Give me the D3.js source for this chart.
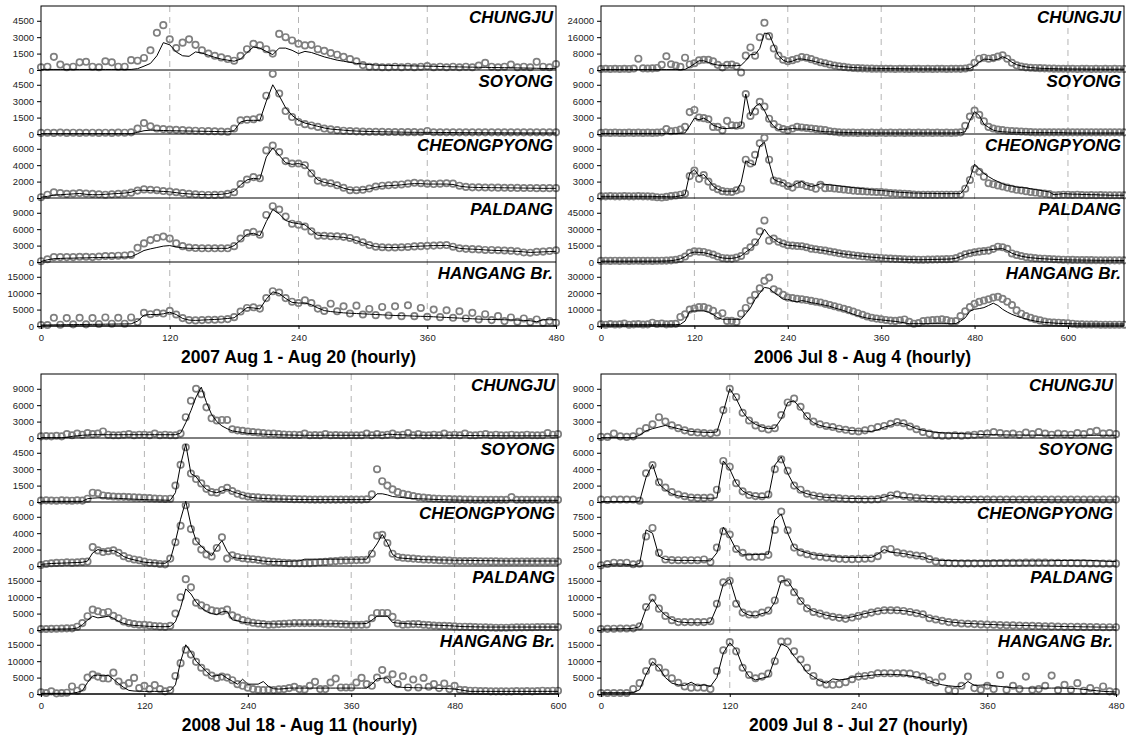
<!DOCTYPE html>
<html>
<head>
<meta charset="utf-8">
<script src="https://cdn.jsdelivr.net/npm/d3@7"></script>
<style>
  body { margin: 0; background: #fff; }
  text { font-family: "Liberation Sans", Arial, sans-serif; }
</style>
</head>
<body>
<svg id="chart" width="1126" height="740"></svg>
<script>
// station names, top to bottom in every panel
var stations = ["CHUNGJU", "SOYONG", "CHEONGPYONG", "PALDANG", "HANGANG Br."];

// ---------- 2007 Aug 1 - Aug 20 (values every 6 hours) ----------
var obs07Chungju = [250,300,1200,500,250,300,700,750,300,250, 800,700,300,300,900,850,1100,1800,3400,4100, 2800,2000,2500,2800,2300,1800,1500,1300,1150,1000, 850,1300,1900,2400,2250,1900,1500,3300,3000,2700, 2400,2250,2300,1900,1750,1550,1400,1200,1000,800, 450,300,300,250,250,300,250,300,250,300, 350,250,300,250,300,250,300,250,400,650, 300,250,300,500,250,300,250,750,300,250, 550];
var sim07Chungju = [50,50,50,50,50,50,50,50,50,50, 50,50,50,50,50,120,350,600,1300,2500, 2300,1650,1300,1250,1650,1550,1350,1150,1000,900, 800,1000,1600,2100,2000,1700,1400,2000,2000,1800, 1500,1700,1600,1400,1200,1050,900,800,700,600, 550,500,450,430,420,400,390,380,370,360, 350,340,320,300,290,280,270,260,250,240, 230,220,210,200,190,180,170,160,140,130, 120];
var obs07Soyong = [100,120,100,130,100,120,100,110,120,100, 120,100,130,120,150,500,1000,700,500,450, 400,380,350,320,300,280,260,250,230,200, 500,1250,1300,1350,1500,3500,5500,3700,2100,1550, 1100,900,780,650,500,420,350,300,270,240, 220,200,200,190,180,180,170,170,170,160, 280,160,160,150,150,150,150,150,150,150, 150,150,150,150,150,150,150,150,150,150, 150];
var sim07Soyong = [30,30,30,30,30,30,30,30,30,30, 30,30,30,30,30,150,300,350,340,320, 300,290,280,270,260,250,240,230,210,200, 300,1100,1250,1250,1250,3000,4500,3500,2400,1700, 1250,1000,850,700,550,450,400,350,300,270, 250,230,210,200,190,180,170,160,155,150, 150,145,140,135,130,125,120,120,115,115, 110,110,110,105,105,100,100,100,100,100, 100];
var obs07Cheong = [100,400,700,600,500,550,600,550,500,450, 400,450,500,550,650,900,1050,1000,950,850, 780,700,600,500,450,400,370,380,400,500, 700,1700,2250,2550,2400,5800,6400,5600,4500,4200, 4200,4000,3000,2100,1900,1800,1550,1250,950,950, 1000,1150,1400,1500,1550,1600,1650,1750,1850,1800, 1750,1700,1750,1800,1750,1500,1350,1300,1300,1280, 1270,1260,1250,1240,1230,1220,1210,1200,1200,1200, 1200];
var sim07Cheong = [100,200,350,400,450,500,550,450,400,400, 450,500,550,600,700,950,950,900,850,800, 750,650,550,500,450,420,400,420,450,550, 800,1600,2200,2400,2300,5000,6100,5200,4300,4100, 4200,4000,3100,2200,1900,1750,1500,1200,1000,950, 1000,1100,1300,1450,1500,1550,1600,1700,1750,1750, 1700,1700,1700,1700,1650,1450,1350,1300,1280,1270, 1260,1250,1240,1230,1220,1210,1200,1190,1180,1180, 1180];
var obs07Paldang = [150,500,900,900,900,900,950,950,900,1000, 1100,1100,1150,1200,1300,2600,3400,4000,4400,4650, 4300,3400,2900,2650,2550,2500,2500,2500,2500,2500, 2900,4300,5300,5500,5000,8600,10200,9600,8300,7000, 6800,6500,5600,4800,4800,4700,4700,4600,4400,4000, 3600,3100,2800,2700,2650,2650,2700,2750,2850,2900, 2950,3000,3050,3100,2800,2500,2400,2350,2300,2200, 2200,2150,2100,2050,1950,1750,1700,1850,1900,2000, 2150];
var sim07Paldang = [100,400,600,650,700,700,750,750,800,800, 850,850,900,900,950,1500,2100,2400,2650,2900, 3000,2750,2600,2500,2500,2500,2500,2500,2500,2500, 3000,4000,5050,5250,4800,7400,9600,8800,7600,7200, 7000,6800,5800,4900,4800,4700,4600,4500,4300,3900, 3500,3100,2800,2700,2650,2650,2700,2750,2850,2900, 2950,3000,3000,3050,2800,2500,2400,2350,2300,2200, 2150,2100,2050,2000,1950,1850,1750,1800,1850,1900, 1950];
var obs07Hangang = [300,300,2500,400,2400,500,2500,500,2400,600, 2600,700,2500,700,2600,1200,4000,3600,4000,3800, 4600,3500,2400,1800,1700,1800,1900,1900,2000,2100, 2700,4400,5500,5700,5300,8500,10600,10200,8500,7400, 7000,7800,7000,5300,4600,6800,4500,6000,3800,6200, 3500,5200,3300,5800,3200,6000,3000,6300,3000,5500, 2800,5000,2700,4800,2500,4500,2300,4000,2000,3600, 1800,3000,1500,2600,1300,2300,1200,2000,1000,1500, 1000];
var sim07Hangang = [300,320,350,380,400,420,450,480,500,520, 550,580,600,620,650,1500,3300,3500,3500,3700, 4200,3500,2300,1800,1700,1800,1900,2000,2100,2300, 2500,4000,5600,5500,5200,8200,10400,9900,8400,7200, 7000,7000,6500,5500,4700,4400,4200,4000,3900,3800, 3700,3600,3500,3400,3300,3200,3150,3100,3000,2950, 2900,2800,2700,2600,2500,2400,2300,2200,2100,2050, 2000,1950,1900,1850,1800,1700,1600,1300,1900,1900, 1900];
var ticks07 = [[1500, 3000, 4500], [1500, 3000, 4500], [2000, 4000, 6000], [3000, 6000, 9000], [5000, 10000, 15000]];

// ---------- 2006 Jul 8 - Aug 4 ----------
var obs06Chungju = [500,600,500,600,500,600,500,700,5500,800, 700,800,1000,2500,6700,2800,2200,1500,6000,2700, 3300,4700,5000,5000,4200,2500,1300,2500,2600,1800, -1200,7000,11000,7000,16000,23000,16500,10500,7000,5000, 4300,4800,5500,6300,6000,5300,4500,3800,3300,2700, 2200,1800,1500,1200,1000,900,800,700,650,600, 600,550,600,500,600,550,500,600,550,500, 600,500,550,600,500,550,600,550,700,1200, 3500,5500,6000,5500,5800,6500,7200,5500,3500,2300, 1700,1300,1100,1000,900,800,700,650,600,600, 550,600,500,550,600,500,550,500,600,500, 550,500,500];
var sim06Chungju = [200,200,200,200,200,200,200,200,200,200, 200,200,200,200,200,200,200,200,300,1500, 3000,4500,4500,3700,2900,2400,2200,2100,2100,2100, 2300,4500,7500,7500,10500,18000,17500,12200,7000,4800, 3800,4300,5300,5400,5000,4600,4000,3400,2900,2500, 2100,1800,1600,1400,1200,1100,1000,900,850,800, 750,700,700,650,650,600,600,600,550,550, 550,550,500,500,500,500,500,500,600,700, 2000,3800,5300,5200,4800,5300,6500,5500,3800,2600, 2000,1500,1200,1000,850,750,700,650,600,550, 550,500,500,500,450,450,450,450,400,400, 400,400,400];
var obs06Soyong = [200,250,200,250,200,200,250,200,250,200, 250,200,250,300,900,500,600,800,1300,4000, 4400,3000,2900,2700,1300,1300,700,2400,1600,1500, 1600,7300,3300,4100,5900,5000,2800,1800,1200,900, 700,1000,1300,1200,1100,1000,900,800,700,500, 400,300,250,250,250,200,250,200,250,200, 250,200,250,200,250,200,250,200,250,200, 250,200,250,200,250,200,250,300,1500,3200, 4300,3500,2300,1300,1000,800,700,600,550,500, 450,400,350,300,300,300,300,300,300,300, 300,300,300,300,300,300,300,300,300,300, 300,300,300];
var sim06Soyong = [100,100,100,100,100,100,100,100,100,100, 100,100,100,100,100,100,100,100,200,1500, 2900,2600,2900,2400,1600,1300,1000,1000,1100,1100, 1500,7300,3300,5000,5600,4300,2500,1400,800,850, 900,1000,950,900,900,800,600,500,400,400, 350,300,300,250,250,250,200,200,200,200, 200,200,200,200,200,200,200,200,200,200, 200,200,200,200,200,200,200,250,400,2500, 4100,3400,1800,1200,700,500,400,350,300,300, 250,250,250,250,250,250,250,250,250,250, 200,200,200,200,200,200,200,200,200,200, 200,200,200];
var obs06Cheong = [300,300,350,300,300,350,300,300,350,300, 300,250,150,100,200,350,450,600,800,4000, 5000,3500,4200,3000,2000,1600,1250,1150,1100,1400, 1700,7000,6300,7900,10000,11000,7000,3200,3000,2700, 2200,1900,2500,2500,2200,2000,1700,2400,1800,1850, 1750,1650,1550,1450,1350,1300,1250,1200,1150,1100, 1100,1000,900,850,800,750,700,650,600,600, 600,600,600,600,600,600,600,650,1700,3300, 5300,4800,3900,2700,2500,2300,2100,1900,1700,1500, 1400,1250,1100,1000,900,800,700,500,550,600, 600,550,600,550,500,550,500,550,500,500, 500,500,500];
var sim06Cheong = [300,300,300,300,300,300,300,300,300,300, 300,300,250,250,250,200,250,400,600,4500, 5200,4000,4300,3300,2200,1600,1250,1250,1250,1250, 2800,6800,6300,6000,9500,10200,6500,3400,3000,2800, 2000,2200,2700,3000,2400,2100,2300,2600,2500,2400, 2300,2200,2100,2000,1900,1800,1700,1600,1500,1400, 1350,1300,1200,1100,1050,1000,950,900,900,850, 850,850,800,800,800,800,800,800,1800,3600, 6200,5300,4500,3900,3400,3000,2600,2300,2200,2000, 1900,1850,1700,1550,1400,1250,1100,600,700,800, 750,700,700,650,650,600,600,550,550,500, 500,500,500];
var obs06Paldang = [1000,1100,1000,1200,1000,1100,1000,1100,1200,1000, 1100,1000,1100,1200,1300,1500,2000,3000,5000,8300, 9800,9500,9200,8000,6700,5000,3700,3300,3100,4000, 5500,10000,13500,18000,28000,38000,19500,21400,18500,16800, 15300,15000,14600,14400,13500,12200,11600,11000,10400,9600, 8800,8000,7300,6700,6200,5700,5200,4800,4400,4000, 3700,3400,3100,2900,2700,2500,2300,2200,2100,2100, 2200,2300,2400,2500,2600,2800,3500,5200,7000,8000, 8900,9500,10000,10400,12000,14000,13500,12000,7800,6500, 5500,4500,4000,3500,3200,3000,2700,2500,2300,2100, 2000,1900,1800,1800,1700,1700,1600,1600,1500,1500, 1500,1500,1500];
var sim06Paldang = [800,800,800,800,800,800,800,800,800,800, 800,800,800,900,1000,1200,1800,2800,4800,8000, 9000,8800,8500,7500,6300,4800,3700,3300,3300,4000, 5500,9000,12000,16000,22000,30000,24000,21000,18000,16500, 15300,15000,14600,14000,13200,12200,11600,11000,10300,9500, 8700,8000,7300,6700,6200,5700,5200,4800,4400,4000, 3700,3400,3100,2900,2700,2500,2300,2200,2100,2100, 2200,2300,2400,2500,2600,2800,3400,5000,6800,8000, 9000,10000,10800,11000,11500,12000,12200,10500,8000,6500, 5300,4500,3900,3500,3100,2900,2600,2400,2200,2000, 1900,1800,1800,1700,1700,1600,1600,1500,1500,1500, 1400,1400,1400];
var obs06Hangang = [1000,800,1200,900,1000,1500,800,1000,1200,900, 1000,2000,1200,1500,1000,1200,1300,5500,7100,10000, 10600,11500,11500,10600,9200,6100,7800,3100,3100,2500, 7500,11000,15500,19000,23000,27500,29500,22400,21000,19000, 17300,17000,16600,16200,15800,15300,14800,14300,13500,12800, 12000,11300,10500,9700,8800,7800,6800,5800,5000,4500, 4100,3700,3300,3100,3500,4000,2500,1400,1800,3000, 3300,3600,3800,4100,3600,2800,3000,6100,9000,11500, 13500,14700,15500,16300,17300,17800,16500,14800,12800,9500, 7500,6100,5000,4100,3400,2700,2300,2100,2000,1800, 1700,1400,1000,1000,900,900,900,800,800,800, 800,800,800];
var sim06Hangang = [800,800,800,800,800,800,800,800,800,800, 800,800,800,800,800,800,800,1000,3000,9000, 9200,9200,9200,8400,7000,5100,4100,4100,4100,4100, 4100,7500,11000,16300,20000,23500,23000,20500,18500,16300, 16300,15300,14700,15500,15000,14200,13800,13200,12600,12000, 11000,10200,9400,8300,7200,6300,5500,4800,4300,4000, 3700,3400,3100,2800,2400,1900,1400,1400,1400,1400, 1400,1400,1400,1400,1400,1400,1500,3000,5000,9000, 10200,10600,11200,12500,13900,12500,10200,8500,7100,6000, 5100,4300,3600,3000,2500,2200,2000,1800,1600,1500, 1400,1300,1300,1200,1200,1200,1200,1200,1200,1200, 1200,1200,1200];
var ticks06 = [[8000, 16000, 24000], [3000, 6000, 9000], [3000, 6000, 9000], [15000, 30000, 45000], [10000, 20000, 30000]];

// ---------- 2008 Jul 18 - Aug 11 ----------
var obs08Chungju = [300,350,300,400,300,700,500,800,600,900, 700,800,1200,600,500,500,600,700,500,600, 600,500,800,500,600,500,500,800,3800,6800, 9000,8000,5600,3600,3200,3300,3300,1600,1400,1300, 1200,1100,1000,900,800,800,700,650,600,600, 550,800,500,550,500,700,500,550,500,500, 500,500,500,800,500,700,500,600,800,500, 600,900,500,700,500,500,600,500,800,500, 600,500,800,500,500,600,700,500,600,500, 500,600,500,500,600,500,500,500,900,600, 700];
var sim08Chungju = [60,60,60,60,60,100,300,400,500,550, 600,600,600,600,600,600,600,600,600,600, 600,600,600,600,600,600,600,900,2800,5000, 7500,9300,6500,4300,3000,2200,1700,1300,1150,1000, 850,800,750,700,650,600,580,560,540,520, 500,500,500,500,500,500,500,500,500,500, 500,500,500,500,500,500,500,700,650,600, 580,550,520,500,500,500,500,500,500,500, 500,480,460,450,450,440,430,420,420,410, 400,400,400,400,400,400,400,400,400,400, 400];
var obs08Soyong = [130,150,130,120,150,130,120,150,130,300, 850,800,600,550,500,480,470,450,420,400, 380,350,320,300,280,300,1500,3400,5000,2600, 2100,1700,1200,900,850,1100,1300,1000,750,600, 500,450,420,380,350,330,320,300,280,260, 250,240,230,220,220,220,220,220,220,220, 220,220,220,250,700,3000,1900,1500,1150,900, 750,650,550,450,400,350,320,300,280,260, 250,240,230,220,210,200,200,200,200,200, 200,450,200,200,200,200,200,200,200,200, 200];
var sim08Soyong = [60,60,60,60,60,60,60,60,60,300, 350,380,380,370,350,330,300,280,260,240, 220,200,190,180,170,160,850,3400,5300,2600, 2300,1650,1150,950,850,1000,1170,950,800,650, 470,400,350,320,300,280,270,260,250,240, 230,225,220,220,220,220,220,220,220,220, 220,220,220,220,250,750,750,650,500,450, 400,350,320,300,280,260,240,220,200,190, 180,170,160,160,150,150,150,150,150,150, 150,150,150,150,150,150,150,150,150,150, 150];
var obs08Cheong = [120,250,330,380,400,450,410,450,500,540, 2300,1900,1700,1800,1900,1600,1200,950,800,700, 550,400,330,250,200,900,2900,4900,7400,4500, 3000,2000,1400,1160,2200,3500,900,1300,1100,950, 870,830,750,650,560,500,450,400,350,330, 330,330,350,400,450,500,560,600,650,680, 700,720,740,760,1500,3700,3800,2800,1500,1100, 1000,950,900,850,800,780,750,700,680,650, 620,610,600,600,590,580,570,560,560,550, 550,550,550,550,550,550,550,550,550,550, 540];
var sim08Cheong = [200,250,300,330,350,370,400,420,450,600, 1600,2000,1850,1800,1900,1600,1150,900,750,600, 450,410,380,350,330,750,3000,5700,7900,5000, 3100,2400,1800,1240,2300,3100,1800,1080,950,900, 870,800,700,600,540,540,540,560,580,600, 620,830,830,830,830,830,830,830,830,830, 830,830,830,830,1800,2700,3850,2800,1400,1000, 950,900,850,800,780,760,750,740,730,720, 700,700,690,680,670,660,650,640,630,620, 610,610,610,610,610,610,610,610,610,610, 600];
var obs08Paldang = [300,300,350,400,450,500,500,1000,2100,4200, 6200,5700,5200,5500,4300,3600,2600,2100,1800,1600, 1600,1400,1200,1100,1000,1300,5000,10000,15500,13000, 8300,7500,6800,6000,5700,5700,6200,4500,3800,3000, 2600,2200,2000,1800,1600,1700,1800,1900,2000,2100, 2100,2100,2100,2100,2100,2000,2000,1900,1800,1700, 1600,1600,1600,1700,3600,5200,5200,5200,4000,2000, 1600,1700,1800,1800,1600,1500,1350,1300,1250,1200, 1100,1000,1000,950,900,850,800,750,700,700, 700,750,800,800,850,850,900,900,900,900, 900];
var sim08Paldang = [200,220,250,280,300,320,350,600,1600,3000, 4200,3700,3900,4200,3600,2600,2000,1600,1400,1300, 1200,1100,1050,1000,1000,1100,2500,6800,12500,11000, 8500,6800,5600,5000,4700,5500,5700,3100,2800,2400, 2200,2100,2000,1950,1900,1850,1800,1800,1800,1800, 1800,1800,1800,1800,1800,1850,1850,1900,1900,1900, 1900,1900,1900,2000,3000,4200,4200,4200,2300,2100, 2000,1900,1800,1700,1600,1550,1500,1450,1350,1300, 1200,1100,1000,1000,950,950,900,900,900,900, 900,900,900,900,900,900,900,900,900,900, 900];
var obs08Hangang = [500,300,800,200,300,400,2300,1000,2000,5000, 5900,5300,4800,4700,6500,3800,2500,3300,4900,1800, 2500,1500,2700,1500,800,1200,5500,9400,13500,12000, 9800,8000,6600,5600,4900,5300,5000,4200,3000,2500, 1900,1500,1300,1200,1300,1200,1400,1500,1800,2200, 1500,1400,2500,3700,1500,1500,3500,4700,2000,2000, 2000,3500,4900,3000,2500,5000,7300,4400,6000,3000, 5400,2000,4400,2000,4900,2200,3000,1800,3200,1500, 2500,1300,1200,1000,1000,900,900,800,800,800, 800,800,900,800,900,800,900,1000,900,1000, 1000];
var sim08Hangang = [200,200,200,200,200,200,200,500,1000,3500, 5500,5800,5500,5700,4500,3200,2000,1100,900,850, 800,800,800,800,800,1000,2800,9900,15000,12800, 10000,8400,6800,5400,5600,5900,4800,3900,3000,4500, 3000,3000,3000,3800,2300,1600,1500,1600,1800,1800, 1800,1800,1800,1800,1800,1800,1800,1800,1800,1800, 1800,1800,1800,1800,3000,4600,4800,4900,2800,2200, 2000,2000,1900,1900,1800,1800,1800,1700,1700,1600, 1500,1300,1000,800,800,800,800,800,800,800, 800,800,800,800,800,800,800,800,800,800, 800];
var ticks08 = [[3000, 6000, 9000], [1500, 3000, 4500], [2000, 4000, 6000], [5000, 10000, 15000], [5000, 10000, 15000]];

// ---------- 2009 Jul 8 - Jul 27 ----------
var obs09Chungju = [200,200,800,300,200,300,1200,1800,2500,3800, 3000,2300,1800,1400,1100,1000,900,800,1000,5100, 9000,7500,4600,3200,2300,1800,1550,1800,4200,6500, 7200,5700,4000,3000,2500,2200,2000,1700,1500,1300, 1200,1400,1700,2000,2200,2600,2900,2700,2100,1600, 1100,800,500,400,400,500,400,500,600,700, 800,1100,900,700,800,600,1000,700,1100,800, 600,800,700,600,900,700,1100,1300,800,900, 700];
var sim09Chungju = [60,60,60,60,60,60,500,1300,1700,2000, 2300,2000,1700,1400,1200,1100,1050,1000,1100,4800, 9000,7200,4800,3300,2500,2000,1700,1800,3500,6500, 6800,5400,3800,2800,2300,2000,1850,1600,1450,1350, 1300,1250,1200,1500,2000,2300,2800,2600,2200,1700, 1400,1200,1050,950,900,850,800,750,700,650, 600,600,580,560,550,540,530,520,510,500, 500,500,500,500,500,500,500,500,500,500, 500];
var obs09Soyong = [300,250,300,300,300,300,150,3500,4500,2400, 1750,1200,900,700,550,500,500,550,1500,5000, 4300,2300,1300,850,720,700,900,4000,5200,3800, 2000,1500,1000,800,650,550,500,450,400,350, 320,310,300,350,510,800,900,750,600,500, 450,400,350,330,320,310,300,300,300,300, 300,300,300,300,300,300,300,300,300,300, 300,300,300,300,300,300,300,300,300,300, 300];
var sim09Soyong = [50,50,50,50,50,50,100,3000,4600,2200, 1500,1000,750,650,550,500,480,450,500,5000, 4000,2300,1350,900,650,550,600,4500,5500,3500, 2000,1300,1000,800,650,560,520,480,450,430, 420,410,400,450,600,850,650,550,500,480, 450,420,380,350,330,320,300,300,300,300, 280,280,280,280,280,280,280,280,280,280, 260,260,260,260,260,250,250,250,250,250, 250];
var obs09Cheong = [100,300,500,450,500,260,360,4500,5800,2000, 1000,900,880,880,880,880,1000,600,2800,5300, 4800,2600,2000,1400,1400,1400,1700,5500,8300,5450, 2800,2070,1800,1550,1400,1300,1200,1100,1050,1040, 1080,1120,1150,1500,2500,2600,2070,1900,1750,1600, 1500,1040,700,520,450,410,400,400,400,400, 420,440,460,480,500,500,520,520,520,520, 500,480,460,440,420,400,380,370,360,360, 360];
var sim09Cheong = [100,200,300,300,250,100,400,5500,5000,1500, 1000,900,850,850,850,800,800,780,2000,5900, 4400,2500,1700,1700,1750,1800,1800,7000,7900,5000, 2800,2300,2000,1700,1600,1500,1400,1350,1300,1300, 1300,1300,1300,1800,2500,2100,2000,1900,1700,1500, 1400,1000,880,850,820,800,780,780,780,780, 780,780,780,780,780,780,780,780,780,780, 800,820,850,860,870,880,850,800,750,700, 670];
var obs09Paldang = [300,350,400,450,450,500,1150,7000,9800,6500, 4300,3000,2400,2400,2400,2400,2400,2700,8000,14500, 15000,8000,5300,4700,4700,5300,5900,9000,15500,14500, 11500,8800,6600,5500,5000,4400,4000,3700,3400,3800, 4300,4800,5300,5700,6000,6000,6000,5800,5500,5100, 4800,3600,3200,2800,2400,2200,2000,1900,1800,1700, 1650,1600,1500,1450,1400,1350,1300,1250,1200,1150, 1100,1050,1000,1000,950,950,900,900,850,850, 850];
var sim09Paldang = [300,300,350,400,400,500,1000,6500,9500,6500, 4500,3200,2500,2300,2200,2200,2200,2400,7000,14000, 15500,9000,5500,4500,4300,5000,5500,8500,15000,15000, 12000,9000,6800,5700,5100,4500,4100,3800,3600,4000, 4500,5000,5400,5800,6100,6100,6000,5900,5600,5200, 4700,3800,3300,2900,2500,2300,2100,2000,1900,1800, 1700,1650,1550,1500,1450,1400,1350,1300,1250,1200, 1150,1100,1050,1000,1000,950,950,900,900,900, 900];
var obs09Hangang = [300,300,300,300,300,1500,3300,7000,9800,8000, 6500,4800,3400,2300,1900,2000,1900,1500,7000,13300, 15800,13000,8000,5800,4800,5300,6200,10000,16000,16000, 13000,10500,8000,5500,3500,2900,2800,3000,3600,4500, 5300,5500,5800,6300,6300,6300,6300,6300,6200,5800, 5300,4200,3500,5300,1300,900,2500,5300,1800,1300, 2500,1500,5800,1300,2500,1500,5300,1300,1500,2500, 5600,1200,2800,1300,3300,1000,1800,1000,2300,800, 600];
var sim09Hangang = [400,400,400,400,400,400,1300,6000,9800,8000, 5000,3300,2800,2600,3600,2500,2800,2300,5000,12500, 15600,13500,8500,5300,4300,4800,5300,10800,15300,14300, 11500,9300,6500,5300,4000,3300,4600,4300,4500,5100, 5300,5500,5700,5900,6000,6000,5900,5800,5500,5200, 4800,4000,3300,2800,2500,2300,2300,3800,2600,2700, 2800,2500,2300,2100,1900,1800,1800,1800,1800,1800, 1800,1800,1800,1700,1600,1400,1200,1000,800,700, 600];
var ticks09 = [[3000, 6000, 9000], [2000, 4000, 6000], [2500, 5000, 7500], [5000, 10000, 15000], [5000, 10000, 15000]];

var rowH = 64;       // height of one station strip
var step = 6;        // hours between stored values

// panel table built from the arrays above
var panels = [
  { left: 41, right: 556, top: 6, maxHour: 480, xTicks: [0, 120, 240, 360, 480], dashes: [120, 240, 360],
    title: "2007 Aug 1 - Aug 20 (hourly)", ticks: ticks07,
    obs: [obs07Chungju, obs07Soyong, obs07Cheong, obs07Paldang, obs07Hangang],
    sim: [sim07Chungju, sim07Soyong, sim07Cheong, sim07Paldang, sim07Hangang] },
  { left: 601, right: 1124, top: 6, maxHour: 672, xTicks: [0, 120, 240, 360, 480, 600], dashes: [120, 240, 360, 480, 600],
    title: "2006 Jul 8 - Aug 4 (hourly)", ticks: ticks06,
    obs: [obs06Chungju, obs06Soyong, obs06Cheong, obs06Paldang, obs06Hangang],
    sim: [sim06Chungju, sim06Soyong, sim06Cheong, sim06Paldang, sim06Hangang] },
  { left: 41, right: 558, top: 374, maxHour: 600, xTicks: [0, 120, 240, 360, 480, 600], dashes: [120, 240, 360, 480],
    title: "2008 Jul 18 - Aug 11 (hourly)", ticks: ticks08,
    obs: [obs08Chungju, obs08Soyong, obs08Cheong, obs08Paldang, obs08Hangang],
    sim: [sim08Chungju, sim08Soyong, sim08Cheong, sim08Paldang, sim08Hangang] },
  { left: 601, right: 1116, top: 374, maxHour: 480, xTicks: [0, 120, 240, 360, 480], dashes: [120, 240, 360],
    title: "2009 Jul 8 - Jul 27 (hourly)", ticks: ticks09,
    obs: [obs09Chungju, obs09Soyong, obs09Cheong, obs09Paldang, obs09Hangang],
    sim: [sim09Chungju, sim09Soyong, sim09Cheong, sim09Paldang, sim09Hangang] }
];

var svg = d3.select("#chart");

function drawPanel(p) {
  var bottom = p.top + rowH * stations.length;
  var x = d3.scaleLinear().domain([0, p.maxHour]).range([p.left, p.right]);
  var g = svg.append("g");

  // dashed grey guides every 120 hours
  g.selectAll("line.guide")
    .data(p.dashes)
    .join("line")
    .attr("class", "guide")
    .attr("x1", d => x(d)).attr("x2", d => x(d))
    .attr("y1", p.top).attr("y2", bottom)
    .attr("stroke", "#b4b4b4")
    .attr("stroke-width", 1)
    .attr("stroke-dasharray", "6,5");

  stations.forEach(function (name, k) {
    var yBase = p.top + rowH * (k + 1);
    var yTop = p.top + rowH * k;
    var topTick = p.ticks[k][2];
    var y = d3.scaleLinear().domain([0, topTick * 1.3]).range([yBase, yTop]);

    // observed: open grey circles
    g.append("g")
      .selectAll("circle")
      .data(p.obs[k])
      .join("circle")
      .attr("cx", (d, i) => x(i * step))
      .attr("cy", d => y(d))
      .attr("r", 3.2)
      .attr("fill", "none")
      .attr("stroke", "#7f7f7f")
      .attr("stroke-width", 1.7);

    // simulated: thin black line
    var line = d3.line()
      .x((d, i) => x(i * step))
      .y(d => y(d));
    g.append("path")
      .datum(p.sim[k])
      .attr("d", line)
      .attr("fill", "none")
      .attr("stroke", "#000")
      .attr("stroke-width", 1);

    // y axis with 0 + three ticks, plain integers
    var leftAxis = d3.axisLeft(y)
      .tickValues([0].concat(p.ticks[k]))
      .tickFormat(d3.format("d"))
      .tickSize(4)
      .tickPadding(3);
    var ya = g.append("g")
      .attr("transform", `translate(${p.left}, 0)`)
      .call(leftAxis);
    ya.select(".domain").remove();
    ya.selectAll("text").attr("font-size", 9.5).attr("fill", "#222")
      .style("font-family", "'Liberation Sans', Arial, sans-serif");

    // zero line / strip separator
    g.append("line")
      .attr("x1", p.left).attr("x2", p.right)
      .attr("y1", yBase).attr("y2", yBase)
      .attr("stroke", "#000").attr("stroke-width", 1);

    // station name
    g.append("text")
      .attr("x", p.right - 3)
      .attr("y", yTop + 17)
      .attr("text-anchor", "end")
      .attr("font-size", 17)
      .attr("font-weight", "bold")
      .attr("font-style", "italic")
      .text(name);
  });

  // frame
  g.append("rect")
    .attr("x", p.left).attr("y", p.top)
    .attr("width", p.right - p.left).attr("height", bottom - p.top)
    .attr("fill", "none").attr("stroke", "#000").attr("stroke-width", 1);

  // x axis
  var bottomAxis = d3.axisBottom(x).tickValues(p.xTicks).tickFormat(d3.format("d")).tickSize(3).tickPadding(5);
  var xa = g.append("g")
    .attr("transform", `translate(0, ${bottom})`)
    .call(bottomAxis);
  xa.select(".domain").remove();
  xa.selectAll("text").attr("font-size", 9.5).attr("fill", "#222")
    .style("font-family", "'Liberation Sans', Arial, sans-serif");

  // panel title
  g.append("text")
    .attr("x", (p.left + p.right) / 2)
    .attr("y", bottom + 37)
    .attr("text-anchor", "middle")
    .attr("font-size", 17.5)
    .attr("font-weight", "bold")
    .text(p.title);
}

panels.forEach(drawPanel);
</script>
</body>
</html>
